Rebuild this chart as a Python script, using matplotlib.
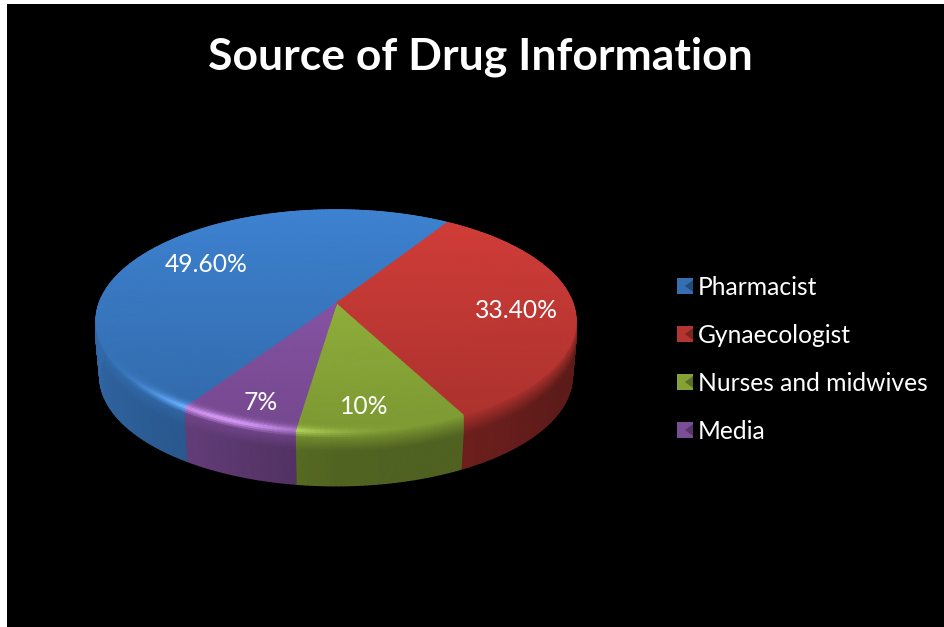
#!/usr/bin/env python3
"""Source of Drug Information: Excel-style 3D pie, projected by hand."""

from __future__ import annotations

import matplotlib

matplotlib.use("Agg")
import matplotlib.pyplot as plt
import numpy as np
from matplotlib.collections import PolyCollection
from matplotlib.colors import to_rgb
from matplotlib.patches import Polygon, Rectangle

TITLE = "Source of Drug Information"
CATEGORIES = ["Pharmacist", "Gynaecologist", "Nurses and midwives", "Media"]
VALUES = [49.6, 33.4, 10.0, 7.0]
LABELS = ["49.60%", "33.40%", "10%", "7%"]

COLORS = ["#3a7bc6", "#c83a36", "#93b43c", "#8a55a8"]
LABEL_POS = [(206, 264), (516, 311), (364, 406), (261, 402)]

W, H = 945, 627
APEX = (336, 304)
RX = 237.0
RY = 108.4
PERSP = 0.153
START = 236.4  # degrees, slices run clockwise from here
DEPTH = 56.0

# wall darkening against angle round the pie
WALL_ANG = [90, 180, 235, 270, 300, 330, 360, 450]
WALL_MUL = [0.80, 0.85, 0.72, 0.55, 0.54, 0.46, 0.46, 0.50]


def project(theta, r=1.0, dy=0.0):
    u = r * np.cos(np.radians(theta))
    v = r * np.sin(np.radians(theta))
    den = 1 + PERSP * v
    return APEX[0] + RX * u / den, APEX[1] - RY * v / den + dy


def quad(t0, t1, r0, r1, d0=0.0, d1=0.0):
    a = project(t0, r0, d0)
    b = project(t1, r0, d0)
    c = project(t1, r1, d1)
    d = project(t0, r1, d1)
    return [a, b, c, d]


def face_factor(y):
    return 1.05 - 0.2 * (y - 210) / 220


def mix(c, w):
    return np.clip(np.array(c) * (1 - w) + w, 0, 1)


def highlight(theta):
    t = theta % 360
    return 0.85 * np.exp(-(((t - 246) / 19) ** 2))


def glow(col, k):
    # brighten in the slice's own hue, so the rim light is not grey
    return mix(np.clip(np.array(col) * (1 + 0.9 * k), 0, 1), 0.3 * k)


def wall_radius(s):
    return 1 - 0.015 * max(0.0, (s - 0.3) / 0.7)


def slice_angles():
    # clockwise sweep, so the stop angle is below the start angle
    sweep = np.array(VALUES) / sum(VALUES) * 360
    stops = START - np.cumsum(sweep)
    starts = np.r_[START, stops[:-1]]
    return starts, stops


def draw_pie(ax):
    starts, stops = slice_angles()
    polys, cols = [], []

    # wall first, the top face covers whatever belongs to the back
    wall_t = np.linspace(0, 1, 29)
    for color, a0, a1 in zip(COLORS, starts, stops):
        base = np.array(to_rgb(color))
        n = max(int(abs(a0 - a1)), 2)
        th = np.linspace(a0, a1, n + 1)
        for t0, t1 in zip(th[:-1], th[1:]):
            mid = (t0 + t1) / 2
            mul = np.interp(mid % 360, WALL_ANG, WALL_MUL)
            for s0, s1 in zip(wall_t[:-1], wall_t[1:]):
                s = (s0 + s1) / 2
                polys.append(
                    quad(t0, t1, wall_radius(s0), wall_radius(s1), DEPTH * s0, DEPTH * s1)
                )
                fade = np.clip(s / 0.36, 0, 1) ** 0.9
                col = base * 0.88 * (1 + (mul / 0.88 - 1) * fade)
                cols.append(glow(col, highlight(mid) * max(0, 1 - s / 0.12)))

    # top face plus the bevel ring
    rings = np.r_[np.linspace(0.0, 0.93, 32), np.linspace(0.94, 1.0, 9)]
    for color, a0, a1 in zip(COLORS, starts, stops):
        base = np.array(to_rgb(color))
        n = max(int(abs(a0 - a1)), 2)
        th = np.linspace(a0, a1, n + 1)
        for t0, t1 in zip(th[:-1], th[1:]):
            mid = (t0 + t1) / 2
            for r0, r1 in zip(rings[:-1], rings[1:]):
                q = quad(t0, t1, r0, r1)
                ym = np.mean([p[1] for p in q])
                col = base * face_factor(ym)
                r = (r0 + r1) / 2
                if r > 0.93:
                    col = glow(col, highlight(mid) * ((r - 0.93) / 0.07) ** 3)
                polys.append(q)
                cols.append(col)

    # wide edges so neighbouring cells overlap and no seams show
    ax.add_collection(
        PolyCollection(polys, facecolors=cols, edgecolors=cols, linewidths=1.0)
    )


def draw_legend(ax):
    ys = [286, 334, 382, 430]
    for name, color, y in zip(CATEGORIES, COLORS, ys):
        base = np.array(to_rgb(color))
        ax.add_patch(Rectangle((677, y - 8), 16, 16, color=base * 0.9, lw=0))
        # wedge cut into the right of the swatch, as the 3D legend keys have
        ax.add_patch(
            Polygon(
                [(693, y - 6), (685, y), (693, y + 6)],
                color=base * 0.62,
                lw=0,
            )
        )
        ax.text(698, y + 1.5, name, color="white", fontsize=17.7, va="center", ha="left")


def main() -> None:
    plt.rcParams["font.family"] = ["Lato", "DejaVu Sans"]

    fig = plt.figure(figsize=(W / 100, H / 100), dpi=100, facecolor="white")
    ax = fig.add_axes([0, 0, 1, 1])
    ax.set_xlim(0, W)
    ax.set_ylim(H, 0)
    ax.axis("off")

    ax.add_patch(Rectangle((7, 4), W - 7, H - 4, color="black", lw=0))

    draw_pie(ax)

    for label, (x, y) in zip(LABELS, LABEL_POS):
        ax.text(x, y, label, color="white", fontsize=17.7, ha="center", va="center")

    ax.text(
        480, 57, TITLE, color="white", fontsize=32, fontweight="bold",
        ha="center", va="center",
    )

    draw_legend(ax)

    fig.savefig("out.png", dpi=100, facecolor="white")


if __name__ == "__main__":
    main()
